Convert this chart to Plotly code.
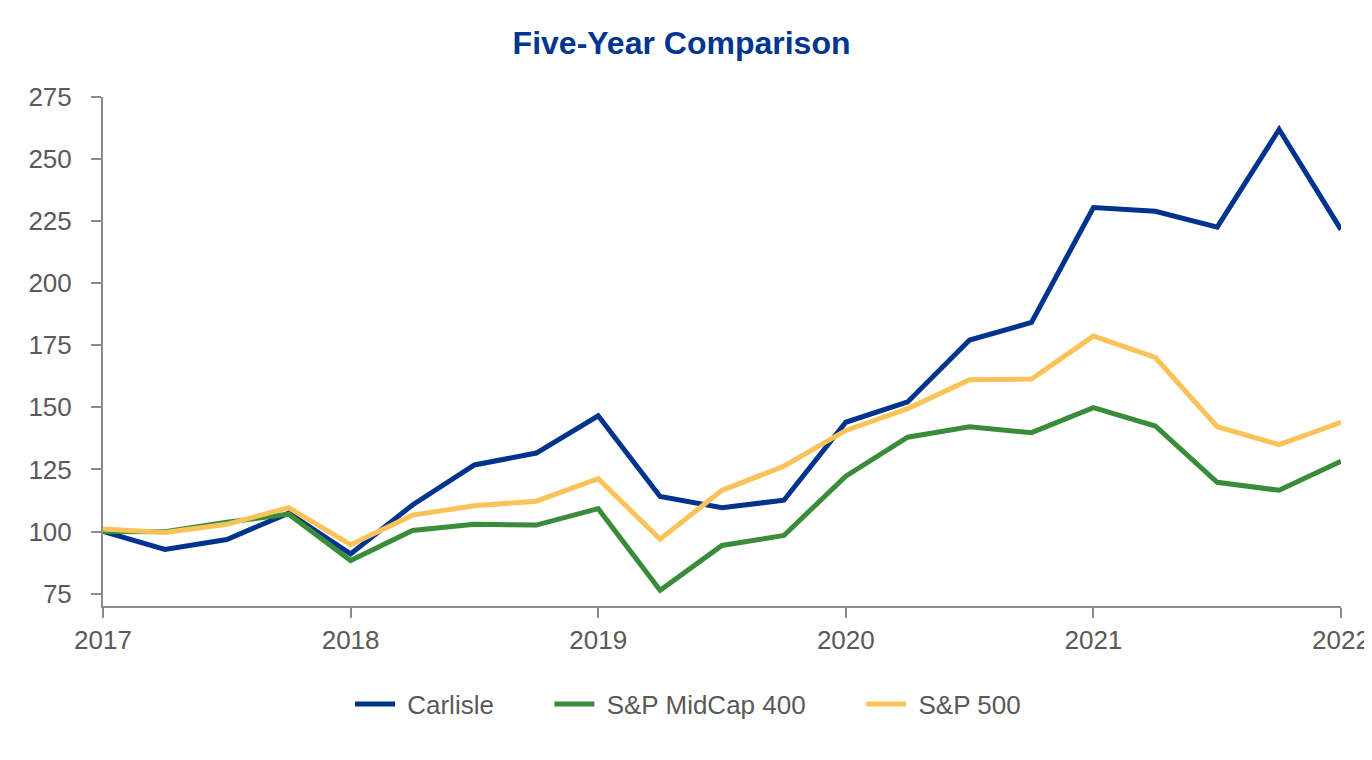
import plotly.graph_objects as go

# quarterly dates, 2017 to 2022
quarters = [2017 + i * 0.25 for i in range(21)]

carlisle = [100, 92.8, 96.8, 107.4, 91, 110.7, 126.8, 131.6, 146.6, 114.1, 109.6,
            112.6, 144, 152.2, 177.1, 184.2, 230.5, 229, 222.6, 261.9, 221.6]
midcap = [100, 99.9, 103.7, 107, 88.3, 100.4, 102.9, 102.6, 109.2, 76.3, 94.4,
          98.4, 122.3, 138, 142.2, 139.8, 149.9, 142.5, 119.8, 116.6, 128.3]
sp500 = [101, 99.6, 102.9, 109.6, 94.7, 106.6, 110.4, 112.2, 121.3, 96.9, 116.6,
         126.3, 140.7, 149.5, 161.1, 161.4, 178.7, 170.1, 142.2, 135, 144]

series_names = ["Carlisle", "S&P MidCap 400", "S&P 500"]
colors = ["#00338D", "#3A8C3A", "#FAC35A"]

# a bit of padding around legend labels to spread the entries out
pad = "\u00a0" * 7

fig = go.Figure()
for i, (name, vals, col) in enumerate(zip(series_names, [carlisle, midcap, sp500], colors)):
    label = "\u00a0" + name + (pad if i < len(series_names) - 1 else "")
    fig.add_trace(go.Scatter(x=quarters, y=vals, name=label, mode="lines",
                             line=dict(color=col, width=5)))

axis_style = dict(showline=True, linecolor="#8C8C8C", linewidth=2,
                  ticks="outside", tickcolor="#8C8C8C", ticklen=10, tickwidth=2,
                  showgrid=False, zeroline=False, automargin=False,
                  tickfont=dict(family="Liberation Sans, Arial", size=26, color="#595959"))

fig.update_xaxes(range=[2017, 2022], tickmode="linear", tick0=2017, dtick=1,
                 tickformat="d", **axis_style)
fig.update_yaxes(range=[70, 275], tickmode="linear", tick0=75, dtick=25,
                 ticklabelstandoff=14, **axis_style)

fig.update_layout(
    width=1364, height=752,
    margin=dict(l=95, r=31, t=89, b=154),
    paper_bgcolor="white", plot_bgcolor="white",
    title=dict(text="<b>Five-Year Comparison</b>", x=0.4938, xanchor="center",
               y=0.9535, yanchor="middle",
               font=dict(family="Liberation Sans, Arial", size=32, color="#003591")),
    legend=dict(orientation="h", x=0.1995, xanchor="left", y=-0.1925, yanchor="middle",
                font=dict(family="Liberation Sans, Arial", size=26, color="#595959"),
                itemwidth=40, tracegroupgap=0),
    showlegend=True,
)

fig.write_html("out.html")
